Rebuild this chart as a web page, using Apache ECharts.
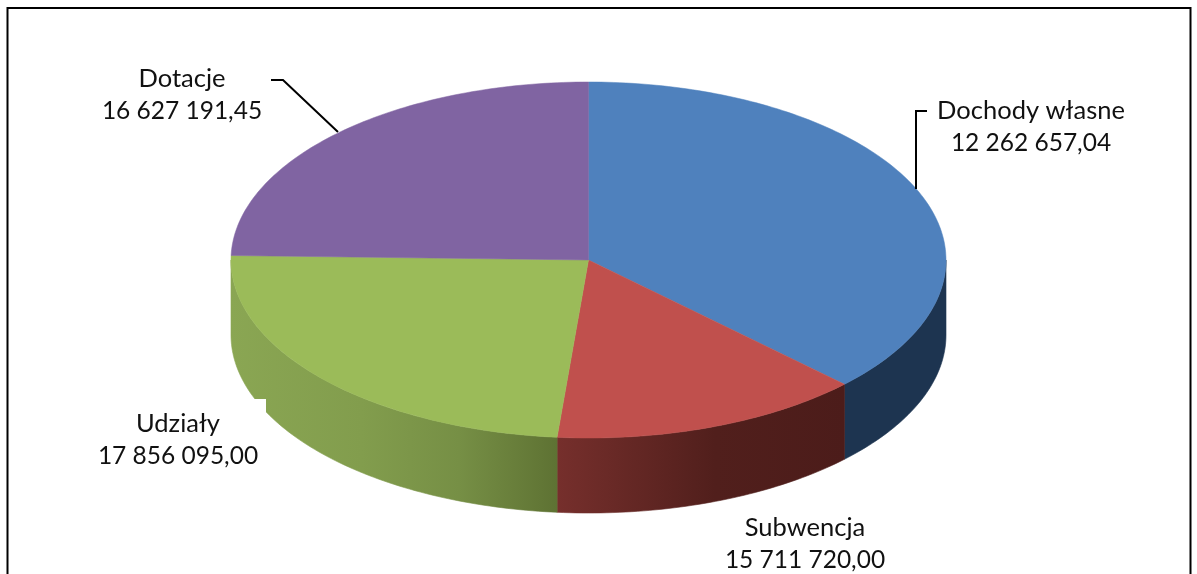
<!DOCTYPE html>
<html>
<head>
<meta charset="utf-8">
<style>
html, body { margin: 0; padding: 0; background: #fff; overflow: hidden; }
#main { width: 1197px; height: 574px; }
</style>
<script src="https://cdn.jsdelivr.net/npm/echarts@6/dist/echarts.min.js"></script>
</head>
<body>
<div id="main"></div>
<script>
var categories = ['Dochody własne', 'Subwencja', 'Udziały', 'Dotacje'];
var valueLabels = ['12 262 657,04', '15 711 720,00', '17 856 095,00', '16 627 191,45'];
// slice sizes as drawn in the picture, in percent (they do not follow the printed values)
var sliceShares = [37.3, 14.1, 24.0, 24.6];

var topColors = ['#4f81bd', '#c0504d', '#9bbb59', '#8064a2'];
var sideStops = [
    [[0, '#1d3450'], [1, '#1d3450']],
    [[0, '#762f2c'], [0.55, '#511f1c'], [1, '#4c1c1a']],
    [[0, '#8aa653'], [0.4, '#829d4d'], [0.7, '#768f45'], [1, '#5e7233']],
    [[0, '#5c4876'], [1, '#5c4876']]
];
var labelPos = [[1031, 127], [805, 544], [178, 440], [182, 95]];

var cx = 588.5, cy = 260, rx = 357.5, ry = 178, depth = 75;

function ringPoint(deg, drop) {
    var a = deg * Math.PI / 180;
    return [cx + rx * Math.sin(a), cy - ry * Math.cos(a) + (drop || 0)];
}

function sliceRange(i) {
    var total = sliceShares.reduce(function (s, v) { return s + v; }, 0);
    var before = 0;
    for (var k = 0; k < i; k++) before += sliceShares[k];
    return [before / total * 360, (before + sliceShares[i]) / total * 360];
}

function arc(from, to, drop) {
    var pts = [];
    var n = Math.max(2, Math.ceil(to - from));
    for (var k = 0; k <= n; k++) {
        pts.push(ringPoint(from + (to - from) * k / n, drop));
    }
    return pts;
}

function renderSide(params, api) {
    var i = params.dataIndex;
    var r = sliceRange(i);
    var from = Math.max(r[0], 90), to = Math.min(r[1], 270);
    if (to <= from) return { type: 'group', children: [] };
    var pts = arc(from, to, 0).concat(arc(from, to, depth).reverse());
    var stops = sideStops[i].map(function (s) { return { offset: s[0], color: s[1] }; });
    var paint = new echarts.graphic.LinearGradient(0, 0, 1, 0, stops);
    return {
        type: 'polygon',
        shape: { points: pts },
        style: { fill: paint, stroke: paint, lineWidth: 0.6 }
    };
}

function renderTop(params, api) {
    var i = params.dataIndex;
    var r = sliceRange(i);
    return {
        type: 'polygon',
        shape: { points: [[cx, cy]].concat(arc(r[0], r[1], 0)) },
        style: { fill: topColors[i], stroke: topColors[i], lineWidth: 0.5 }
    };
}

function labelLine(i, text, shift, size) {
    return {
        type: 'text',
        z: 20,
        style: {
            x: labelPos[i][0],
            y: labelPos[i][1] + shift,
            text: text,
            fontFamily: 'Lato',
            fontSize: size,
            fill: '#111',
            align: 'center',
            verticalAlign: 'middle'
        }
    };
}

var labels = [];
categories.forEach(function (name, i) {
    labels.push(labelLine(i, name, -16.5, 25.5));
    labels.push(labelLine(i, valueLabels[i], 16.5, 24.5));
});

var myChart = echarts.init(document.getElementById('main'));
var option = {
    animation: false,
    backgroundColor: '#fff',
    graphic: [
        { type: 'rect', z: 1, shape: { x: 7.5, y: 8, width: 1183, height: 620 }, style: { fill: 'none', stroke: '#000', lineWidth: 2 } },
        { type: 'rect', z: 10, shape: { x: 100, y: 399, width: 166, height: 30 }, style: { fill: '#fff' } },
        { type: 'polyline', z: 20, shape: { points: [[271, 80], [283, 80], [338, 132]] }, style: { fill: 'none', stroke: '#000', lineWidth: 2 } },
        { type: 'polyline', z: 20, shape: { points: [[927, 111], [916, 111], [916, 189]] }, style: { fill: 'none', stroke: '#000', lineWidth: 2 } }
    ].concat(labels),
    series: [
        { type: 'custom', coordinateSystem: 'none', silent: true, renderItem: renderSide, data: sliceShares },
        { type: 'custom', coordinateSystem: 'none', silent: true, renderItem: renderTop, data: sliceShares }
    ]
};
myChart.setOption(option);
</script>
</body>
</html>
